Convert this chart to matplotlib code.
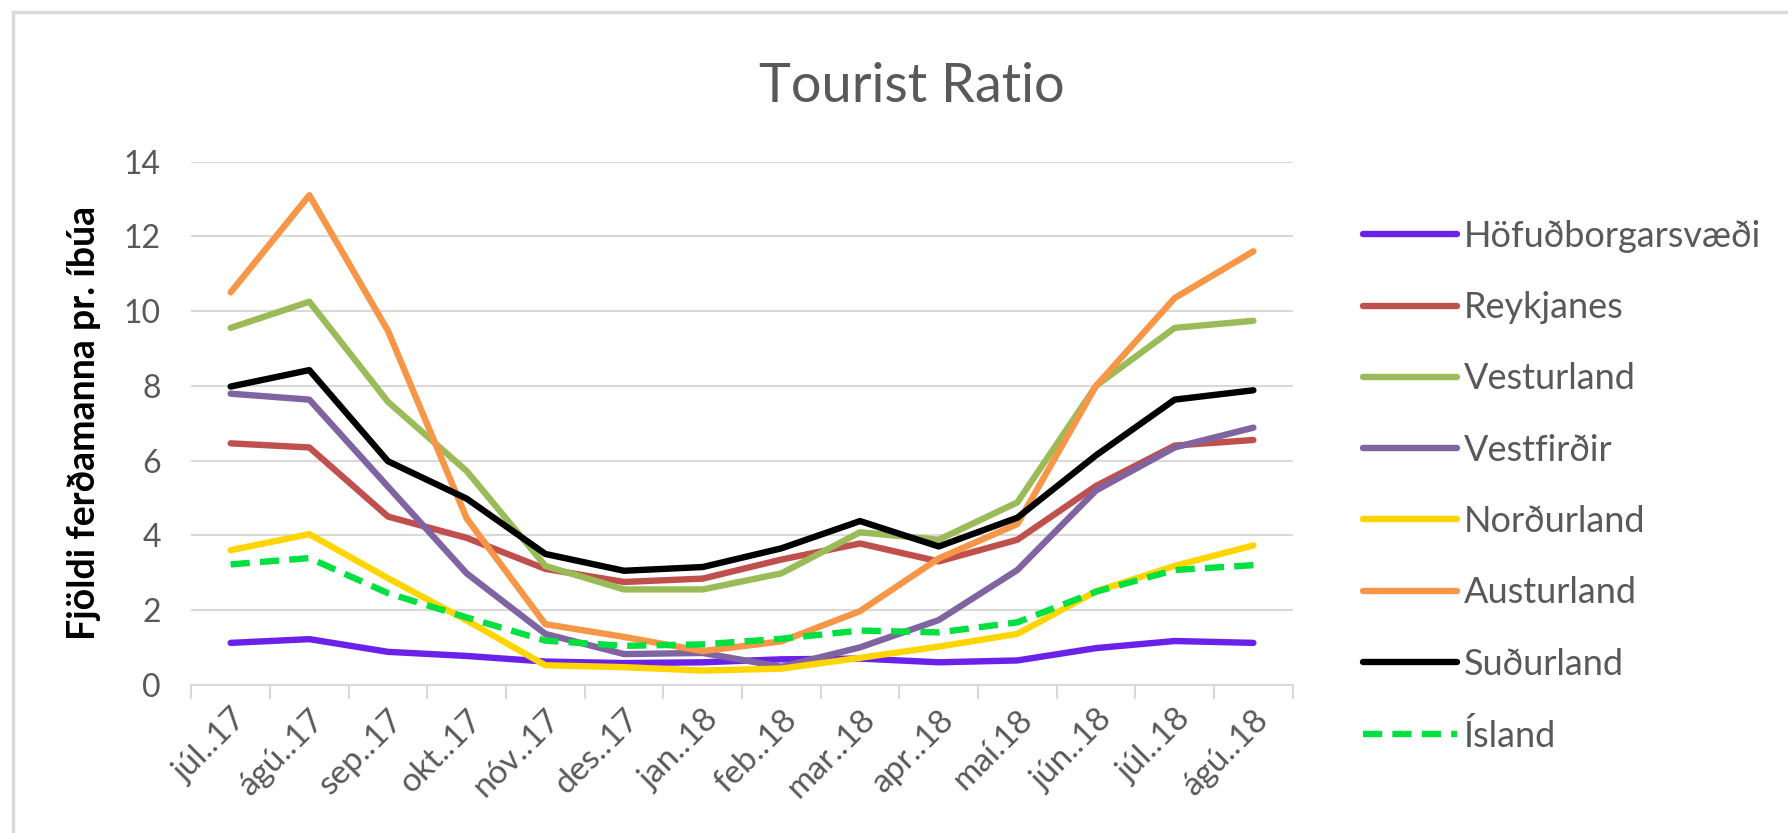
import numpy as np
import matplotlib
matplotlib.use("Agg")
import matplotlib.pyplot as plt
from matplotlib.patches import Rectangle

# -------------------------------------------------------------
# Data
# -------------------------------------------------------------
months = ["júl..17", "ágú..17", "sep..17", "okt..17", "nóv..17", "des..17", "jan..18",
          "feb..18", "mar..18", "apr..18", "maí.18", "jún..18", "júl..18", "ágú..18"]

hofudborg = [1.12, 1.22, 0.88, 0.77, 0.62, 0.58, 0.6, 0.68, 0.7, 0.6, 0.65, 0.98, 1.17, 1.12]
reykjanes = [6.46, 6.35, 4.5, 3.93, 3.1, 2.75, 2.84, 3.35, 3.78, 3.3, 3.88, 5.32, 6.4, 6.55]
vesturland = [9.55, 10.25, 7.57, 5.72, 3.18, 2.55, 2.55, 2.98, 4.08, 3.88, 4.88, 8.0, 9.55, 9.74]
vestfirdir = [7.79, 7.63, 5.3, 2.98, 1.36, 0.82, 0.85, 0.48, 1.0, 1.73, 3.07, 5.2, 6.35, 6.88]
nordurland = [3.6, 4.03, 2.85, 1.72, 0.52, 0.47, 0.38, 0.43, 0.72, 1.02, 1.36, 2.5, 3.18, 3.73]
austurland = [10.5, 13.1, 9.47, 4.45, 1.62, 1.28, 0.9, 1.16, 1.97, 3.38, 4.3, 8.0, 10.35, 11.6]
sudurland = [7.98, 8.42, 5.98, 4.98, 3.5, 3.05, 3.15, 3.65, 4.38, 3.7, 4.47, 6.14, 7.63, 7.88]
island = [3.22, 3.39, 2.45, 1.8, 1.18, 1.04, 1.08, 1.23, 1.45, 1.4, 1.67, 2.49, 3.07, 3.2]

series = [
    ("Höfuðborgarsvæði", hofudborg, "#6a22ea", "-"),
    ("Reykjanes", reykjanes, "#c0504d", "-"),
    ("Vesturland", vesturland, "#9bbb59", "-"),
    ("Vestfirðir", vestfirdir, "#8064a2", "-"),
    ("Norðurland", nordurland, "#ffd500", "-"),
    ("Austurland", austurland, "#f79646", "-"),
    ("Suðurland", sudurland, "#000000", "-"),
    ("Ísland", island, "#00e040", "--"),
]

# -------------------------------------------------------------
# Plot
# -------------------------------------------------------------
plt.rcParams["font.family"] = ["Lato", "DejaVu Sans"]
gray = "#595959"

fig = plt.figure(figsize=(17.88, 8.33), dpi=100)
fig.patches.append(Rectangle((0.007, -0.1), 1.1, 1.086, transform=fig.transFigure,
                             fill=False, edgecolor="#d9d9d9", linewidth=2.5))

ax = fig.add_axes([0.107, 0.178, 0.616, 0.628])
x = np.arange(len(months))
for name, vals, col, ls in series:
    if ls == "--":
        ax.plot(x, vals, color=col, lw=4.6, ls=(0, (3, 1.6)), label=name)
    else:
        ax.plot(x, vals, color=col, lw=4.6, label=name, solid_capstyle="round")

ax.set_xlim(-0.5, len(months) - 0.5)
ax.set_ylim(0, 14)
ax.set_yticks(range(0, 15, 2))
ax.grid(axis="y", color="#d9d9d9", lw=1.5)
ax.set_axisbelow(True)
for s in ["top", "right", "left"]:
    ax.spines[s].set_visible(False)
ax.spines["bottom"].set_color("#d9d9d9")
ax.spines["bottom"].set_linewidth(1.5)

ax.set_xticks(x)
ax.set_xticklabels(months, rotation=45, ha="right", rotation_mode="anchor",
                   fontsize=24, color=gray)
ax.set_xticks(np.arange(-0.5, len(months)), minor=True)
ax.tick_params(axis="x", which="major", length=0, pad=14)
ax.tick_params(axis="x", which="minor", length=10, color="#d9d9d9", width=1.5)
ax.tick_params(axis="y", length=0, labelsize=23, labelcolor=gray, pad=22)

ax.set_ylabel("Fjöldi ferðamanna pr. íbúa", fontsize=27, fontweight="bold", labelpad=16)
fig.suptitle("Tourist Ratio", x=0.51, y=0.925, fontsize=39, color=gray)

fig.legend(loc="upper left", bbox_to_anchor=(0.744, 0.775), frameon=False,
           fontsize=26, labelcolor=gray, handlelength=2.6, handletextpad=0.2,
           labelspacing=1.06)

fig.savefig("out.png", dpi=100)
